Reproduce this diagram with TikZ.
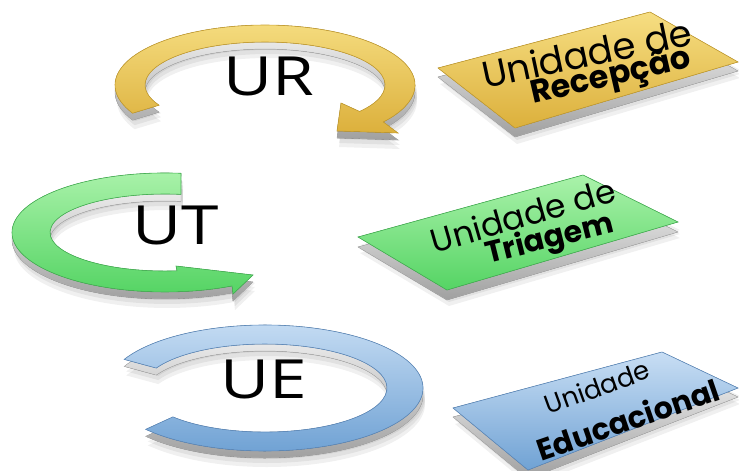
\documentclass[tikz,border=0pt]{standalone}
\usepackage{fontspec}
\newfontfamily\boxfont{Poppins}
\newfontfamily\bigfont{Open Sans}
\definecolor{goldL}{RGB}{246,222,130}
\definecolor{goldD}{RGB}{220,176,60}
\definecolor{goldB}{RGB}{200,160,50}
\definecolor{greenL}{RGB}{170,242,170}
\definecolor{greenD}{RGB}{85,212,100}
\definecolor{greenB}{RGB}{70,180,85}
\definecolor{blueL}{RGB}{200,222,244}
\definecolor{blueD}{RGB}{112,162,212}
\definecolor{blueB}{RGB}{95,140,190}
\definecolor{sideL}{RGB}{245,245,245}
\definecolor{sideD}{RGB}{160,160,160}
\newcommand\pathUR{(132.6,113.2) arc[start angle=152, end angle=398, x radius=150, y radius=60] -- (398,133) -- (337,131) -- (341,103) -- (359.6,111.5) arc[start angle=398, end angle=152, x radius=120, y radius=43] -- cycle}
\newcommand\pathUT{(181,173.3) arc[start angle=276, end angle=64, x radius=153, y radius=59.5] -- (233,294) -- (253,275) -- (176,266) -- (177,270.8) arc[start angle=84, end angle=278, x radius=115, y radius=38.5] -- cycle}
\newcommand\pathUE{(124.2,359.4) arc[start angle=207, end angle=499, x radius=158, y radius=63] -- (172.9,416.9) arc[start angle=499, end angle=207, x radius=122, y radius=44] -- cycle}
\newcommand\boxUR{(438,68) -- (650,12) -- (738,62) -- (515,128) -- cycle}
\newcommand\boxUT{(358,237) -- (583,175) -- (678,222) -- (447,290) -- cycle}
\newcommand\boxUE{(453,408) -- (662,352) -- (738,388) -- (528,470) -- cycle}
\newcommand\wideletters[1]{\scalebox{1.25}[1]{#1}}
\tikzset{
  sideface/.style={top color=sideL, bottom color=sideD, draw=sideD!80, line width=0.4pt},
  softshadow/.style={fill=black, opacity=0.06},
  bigtext/.style={font=\bigfont\fontsize{54}{54}\selectfont, text=black, inner sep=0pt},
  lbltext/.style={text=black, inner sep=0pt},
  goldface/.style={top color=goldL, bottom color=goldD, draw=goldB, line width=0.6pt},
  greenface/.style={top color=greenL, bottom color=greenD, draw=greenB, line width=0.6pt},
  blueface/.style={top color=blueL, bottom color=blueD, draw=blueB, line width=0.6pt},
}
\begin{document}
\begin{tikzpicture}[x=1pt, y=-1pt]
\useasboundingbox[fill=white] (0,0) rectangle (739,471);
% ---- soft shadows
\foreach \s in {8,12,16}{
  \fill[softshadow, shift={(2,\s)}] \pathUR;
  \fill[softshadow, shift={(2,\s)}] \pathUT;
  \fill[softshadow, shift={(2,\s)}] \pathUE;
  \fill[softshadow, shift={(2,\s)}] \boxUR;
  \fill[softshadow, shift={(2,\s)}] \boxUT;
  \fill[softshadow, shift={(2,\s)}] \boxUE;
}
% ---- extrusions
\fill[sideface, shift={(0,7)}] \pathUR;
\fill[sideface, shift={(0,7)}] \pathUT;
\fill[sideface, shift={(0,7)}] \pathUE;
\fill[sideface, shift={(0,9)}] \boxUR;
\fill[sideface, shift={(0,10)}] \boxUT;
\fill[sideface, shift={(0,9)}] \boxUE;
% ---- faces
\filldraw[goldface] \pathUR;
\filldraw[greenface] \pathUT;
\filldraw[blueface] \pathUE;
\filldraw[goldface] \boxUR;
\filldraw[greenface] \boxUT;
\filldraw[blueface] \boxUE;
% ---- big labels
\node[bigtext] (ur) at (269,76) {\wideletters{UR}};
\node[bigtext] (ut) at (176,225) {\wideletters{UT}};
\node[bigtext] (ue) at (264,379) {\wideletters{UE}};
% ---- box labels
\node[lbltext, rotate=12, font=\boxfont\fontsize{37}{37}\selectfont] (ur1) at (587,53) {Unidade de};
\node[lbltext, rotate=13, font=\boxfont\bfseries\fontsize{32}{32}\selectfont] (ur2) at (611,78) {Recepção};
\node[lbltext, rotate=16, font=\boxfont\fontsize{33}{33}\selectfont] (ut1) at (523,215) {Unidade de};
\node[lbltext, rotate=14, font=\boxfont\bfseries\fontsize{30}{30}\selectfont] (ut2) at (550,240) {Triagem};
\node[lbltext, rotate=20, font=\boxfont\fontsize{26}{26}\selectfont] (ue1) at (597,387) {Unidade};
\node[lbltext, rotate=19, font=\boxfont\bfseries\fontsize{30}{30}\selectfont] (ue2) at (628,419) {Educacional};
\end{tikzpicture}
\end{document}
